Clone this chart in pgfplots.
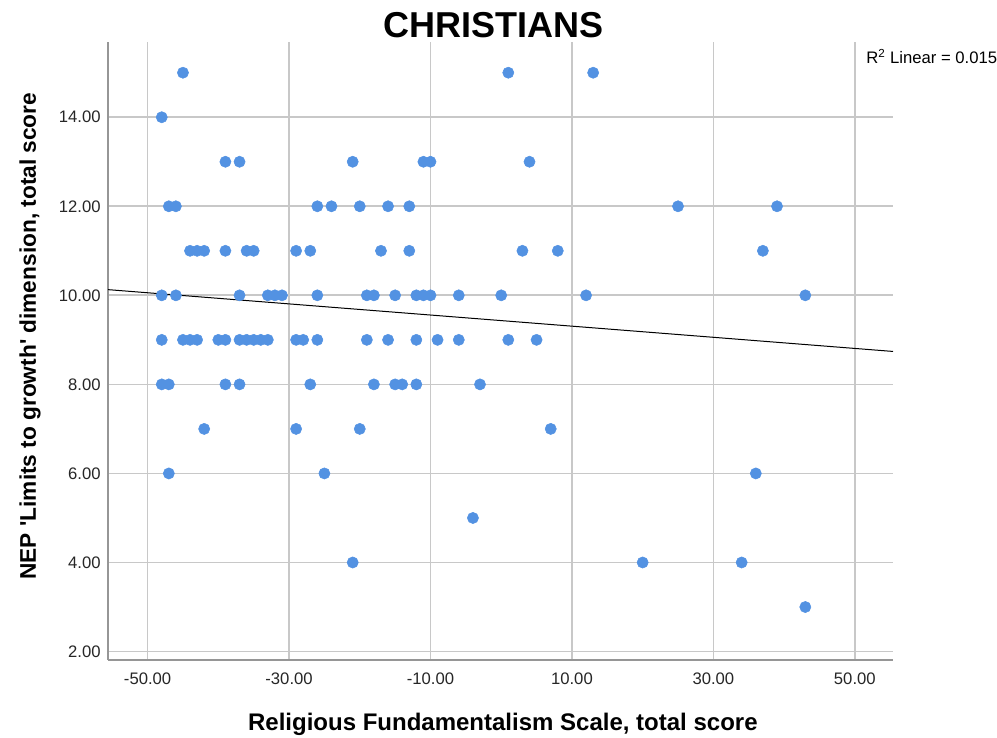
\documentclass[border=0pt]{standalone}
\usepackage{pgfplots}
\pgfplotsset{compat=1.18}
\usepackage{fontspec}
\setmainfont{Liberation Sans}

\definecolor{dotblue}{RGB}{83,146,226}
\definecolor{gridgray}{RGB}{200,200,200}
\definecolor{spinegray}{RGB}{150,150,150}

% Scatter of Religious Fundamentalism (x) against NEP 'Limits to growth' (y)
\pgfplotstableread{
x y
-45 15
1 15
13 15
-48 14
-39 13
-37 13
-21 13
-11 13
-10 13
4 13
-47 12
-46 12
-26 12
-24 12
-20 12
-16 12
-13 12
25 12
39 12
-44 11
-43 11
-42 11
-39 11
-36 11
-35 11
-29 11
-27 11
-17 11
-13 11
3 11
8 11
37 11
-48 10
-46 10
-37 10
-33 10
-32 10
-31 10
-26 10
-19 10
-18 10
-15 10
-12 10
-11 10
-10 10
-6 10
0 10
12 10
43 10
-48 9
-45 9
-44 9
-43 9
-40 9
-39 9
-37 9
-36 9
-35 9
-34 9
-33 9
-29 9
-28 9
-26 9
-19 9
-16 9
-12 9
-9 9
-6 9
1 9
5 9
-48 8
-47 8
-39 8
-37 8
-27 8
-18 8
-15 8
-14 8
-12 8
-3 8
-42 7
-29 7
-20 7
7 7
-47 6
-25 6
36 6
-4 5
-21 4
20 4
34 4
43 3
}\points

% Fitted linear trend across the full x range
\pgfplotstableread{
x y
-55.6 10.128
55.4 8.74
}\fitline

\begin{document}
\begin{tikzpicture}
\useasboundingbox (-81pt,-58.5pt) rectangle (666.75pt,495pt);
\begin{axis}[
  at={(0,0)}, anchor=south west,
  scale only axis,
  width=588.75pt, height=463.5pt,
  xmin=-55.6, xmax=55.4,
  ymin=1.81, ymax=15.69,
  xtick={-50,-30,-10,10,30,50},
  ytick={2,4,6,8,10,12,14},
  axis lines*=left,
  axis line style={spinegray, line width=1.3pt},
  major tick length=0pt,
  grid=major,
  major grid style={gridgray, line width=1.3pt},
  /pgf/number format/assume math mode=true,
  xticklabel={\pgfmathprintnumber[fixed,fixed zerofill,precision=2]{\tick}},
  yticklabel={\pgfmathprintnumber[fixed,fixed zerofill,precision=2]{\tick}},
  ticklabel style={font=\fontsize{12.5pt}{14pt}\selectfont, text=black!85},
  xticklabel style={yshift=-6pt},
  yticklabel style={xshift=-2pt},
  title={CHRISTIANS},
  title style={font=\fontsize{27pt}{31pt}\selectfont\bfseries, at={(rel axis cs:0.491,1.0275)}, anchor=center, yshift=-6pt},
  xlabel={Religious Fundamentalism Scale, total score},
  xlabel style={font=\fontsize{18pt}{21pt}\selectfont\bfseries, at={(rel axis cs:0.503,-0.1036)}, anchor=center},
  ylabel={NEP \textquotesingle Limits to growth\textquotesingle\ dimension, total score},
  ylabel style={font=\fontsize{17pt}{20pt}\selectfont\bfseries, at={(rel axis cs:-0.0994,0.524)}, anchor=center, rotate=0},
  clip=false,
]
\addplot[only marks, mark=*, mark size=4.2pt, color=dotblue] table[x=x,y=y] {\points};
\addplot[black, line width=0.75pt] table[x=x,y=y] {\fitline};
\node[anchor=base west, font=\fontsize{12.5pt}{14pt}\selectfont, inner sep=0pt] at (rel axis cs:0.9656,0.966) {R\textsuperscript{2} Linear = 0.015};
\end{axis}
\end{tikzpicture}
\end{document}
